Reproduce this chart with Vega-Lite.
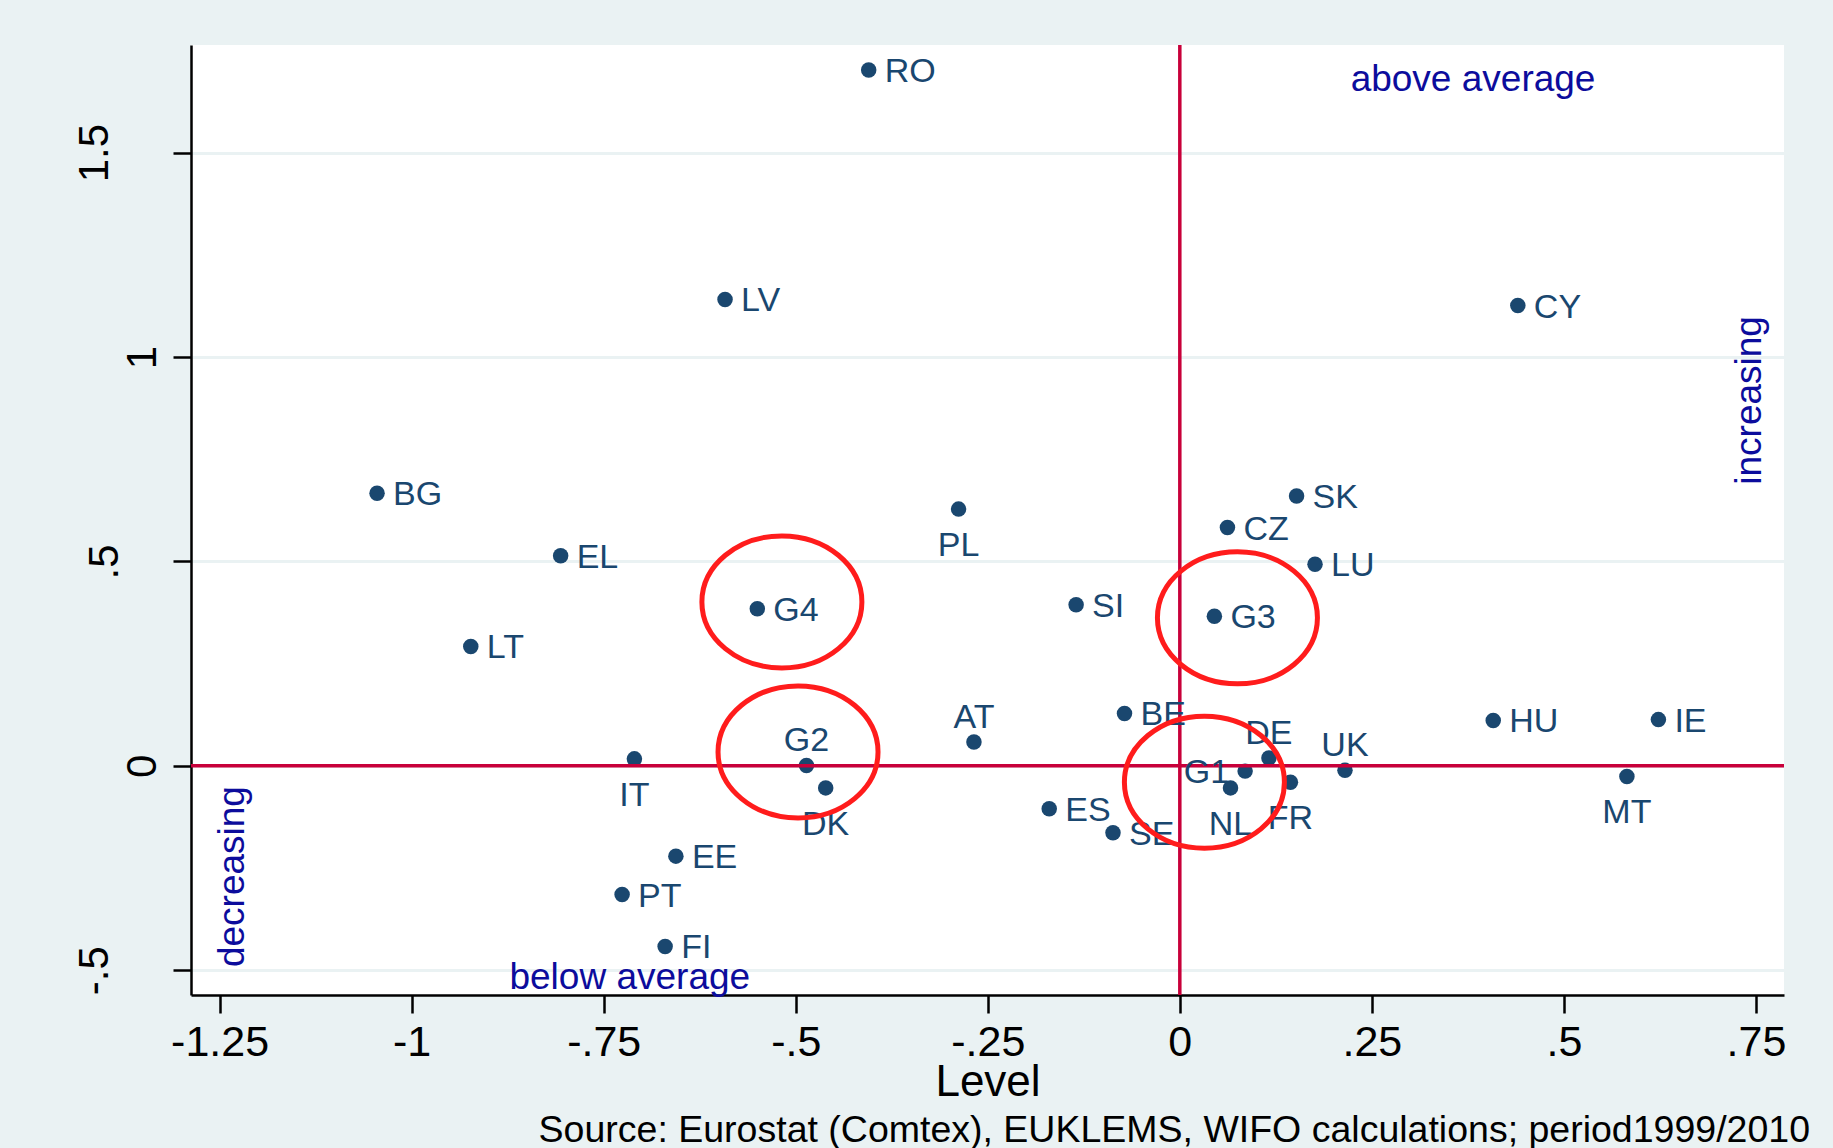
{
  "$schema": "https://vega.github.io/schema/vega-lite/v6.json",
  "width": 1593,
  "height": 950,
  "autosize": {"type": "none"},
  "padding": {"left": 191, "top": 45, "right": 49, "bottom": 153},
  "background": "#EAF2F3",
  "view": {"fill": "white", "stroke": null},
  "config": {"font": "Liberation Sans"},
  "title": {
    "text": "Source: Eurostat (Comtex), EUKLEMS, WIFO calculations; period1999/2010",
    "orient": "bottom",
    "anchor": "end",
    "frame": "group",
    "fontSize": 37.5,
    "fontWeight": "normal",
    "color": "black",
    "font": "Liberation Sans",
    "offset": 8,
    "dx": 26
  },
  "datasets": {
    "countries": [
      {"country": "RO", "level": -0.405, "change": 1.702},
      {"country": "LV", "level": -0.592, "change": 1.141},
      {"country": "BG", "level": -1.045, "change": 0.667},
      {"country": "EL", "level": -0.806, "change": 0.514},
      {"country": "LT", "level": -0.923, "change": 0.292},
      {"country": "G4", "level": -0.550, "change": 0.384},
      {"country": "PL", "level": -0.288, "change": 0.628},
      {"country": "SI", "level": -0.135, "change": 0.394},
      {"country": "AT", "level": -0.268, "change": 0.058},
      {"country": "IT", "level": -0.710, "change": 0.017},
      {"country": "G2", "level": -0.486, "change": 0.001},
      {"country": "DK", "level": -0.461, "change": -0.054},
      {"country": "EE", "level": -0.656, "change": -0.221},
      {"country": "PT", "level": -0.726, "change": -0.315},
      {"country": "FI", "level": -0.670, "change": -0.442},
      {"country": "ES", "level": -0.170, "change": -0.105},
      {"country": "SE", "level": -0.087, "change": -0.164},
      {"country": "BE", "level": -0.072, "change": 0.128},
      {"country": "G3", "level": 0.045, "change": 0.366},
      {"country": "CZ", "level": 0.062, "change": 0.583},
      {"country": "SK", "level": 0.152, "change": 0.660},
      {"country": "LU", "level": 0.176, "change": 0.493},
      {"country": "CY", "level": 0.440, "change": 1.126},
      {"country": "HU", "level": 0.408, "change": 0.111},
      {"country": "IE", "level": 0.623, "change": 0.113},
      {"country": "DE", "level": 0.116, "change": 0.019},
      {"country": "G1", "level": 0.085, "change": -0.013},
      {"country": "NL", "level": 0.066, "change": -0.054},
      {"country": "FR", "level": 0.144, "change": -0.040},
      {"country": "UK", "level": 0.215, "change": -0.011},
      {"country": "MT", "level": 0.582, "change": -0.026}
    ],
    "circles": [
      {"group": "G4", "level": -0.518, "change": 0.401},
      {"group": "G2", "level": -0.497, "change": 0.034},
      {"group": "G3", "level": 0.075, "change": 0.362},
      {"group": "G1", "level": 0.032, "change": -0.040}
    ]
  },
  "data": {"name": "countries"},
  "layer": [
    {
      "mark": {"type": "point", "shape": "circle", "filled": true, "color": "#1a476f", "size": 240, "opacity": 1},
      "encoding": {
        "x": {
          "field": "level",
          "type": "quantitative",
          "scale": {"domain": [-1.2872, 0.7865], "nice": false, "zero": false},
          "axis": {
            "title": "Level",
            "titleFontSize": 44,
            "titleFontWeight": "normal",
            "titleColor": "black",
            "titleY": 100,
            "titleBaseline": "alphabetic",
            "values": [-1.25, -1, -0.75, -0.5, -0.25, 0, 0.25, 0.5, 0.75],
            "labelExpr": "replace(toString(datum.value), '0.', '.')",
            "labelFontSize": 43,
            "labelColor": "black",
            "labelBaseline": "alphabetic",
            "labelPadding": 42,
            "labelFlush": false,
            "labelOverlap": false,
            "labelBound": false,
            "tickSize": 18,
            "tickWidth": 2.5,
            "tickColor": "black",
            "domainColor": "black",
            "domainWidth": 2.5,
            "grid": false
          }
        },
        "y": {
          "field": "change",
          "type": "quantitative",
          "scale": {"domain": [-0.5607, 1.7634], "nice": false, "zero": false},
          "axis": {
            "title": null,
            "values": [-0.5, 0, 0.5, 1, 1.5],
            "labelExpr": "replace(toString(datum.value), '0.', '.')",
            "labelFontSize": 42,
            "labelColor": "black",
            "labelAngle": 270,
            "labelAlign": "center",
            "labelBaseline": "alphabetic",
            "labelPadding": {
              "condition": [
                {"test": "datum.value == 0 || datum.value == 1", "value": 18},
                {"test": "datum.value == 0.5", "value": 56}
              ],
              "value": 66
            },
            "labelOverlap": false,
            "labelBound": false,
            "labelFlush": false,
            "tickSize": 18,
            "tickWidth": 2.5,
            "tickColor": "black",
            "domainColor": "black",
            "domainWidth": 2.5,
            "grid": true,
            "gridColor": "#EAF2F3",
            "gridWidth": 3
          }
        }
      }
    },
    {
      "data": {"values": [{}]},
      "mark": {"type": "rule", "color": "#C8003A", "strokeWidth": 3.5},
      "encoding": {"x": {"datum": 0, "type": "quantitative"}}
    },
    {
      "data": {"values": [{}]},
      "mark": {"type": "rule", "color": "#C8003A", "strokeWidth": 3.5},
      "encoding": {"y": {"datum": 0, "type": "quantitative"}}
    },
    {
      "transform": [{"filter": {"field": "country", "oneOf": ["RO", "LV", "BG", "EL", "LT", "G4", "SI", "G3", "CZ", "SK", "LU", "CY", "HU", "IE", "BE", "ES", "SE", "EE", "PT", "FI"]}}],
      "mark": {"type": "text", "align": "left", "baseline": "middle", "dx": 16, "dy": 2, "fontSize": 34, "color": "#1a476f"},
      "encoding": {
        "x": {"field": "level", "type": "quantitative"},
        "y": {"field": "change", "type": "quantitative"},
        "text": {"field": "country"}
      }
    },
    {
      "transform": [{"filter": {"field": "country", "oneOf": ["AT", "G2", "DE", "UK"]}}],
      "mark": {"type": "text", "align": "center", "baseline": "alphabetic", "dy": -14, "fontSize": 34, "color": "#1a476f"},
      "encoding": {
        "x": {"field": "level", "type": "quantitative"},
        "y": {"field": "change", "type": "quantitative"},
        "text": {"field": "country"}
      }
    },
    {
      "transform": [{"filter": {"field": "country", "oneOf": ["PL", "IT", "DK", "NL", "FR", "MT"]}}],
      "mark": {"type": "text", "align": "center", "baseline": "top", "dy": 20, "fontSize": 34, "color": "#1a476f"},
      "encoding": {
        "x": {"field": "level", "type": "quantitative"},
        "y": {"field": "change", "type": "quantitative"},
        "text": {"field": "country"}
      }
    },
    {
      "transform": [{"filter": {"field": "country", "oneOf": ["G1"]}}],
      "mark": {"type": "text", "align": "right", "baseline": "middle", "dx": -16, "dy": 2, "fontSize": 34, "color": "#1a476f"},
      "encoding": {
        "x": {"field": "level", "type": "quantitative"},
        "y": {"field": "change", "type": "quantitative"},
        "text": {"field": "country"}
      }
    },
    {
      "data": {"name": "circles"},
      "mark": {"type": "point", "shape": "M -1 0 A 1 0.825 0 1 1 1 0 A 1 0.825 0 1 1 -1 0 Z", "filled": false, "color": "#FF1C1C", "stroke": "#FF1C1C", "strokeWidth": 5, "size": 25600, "opacity": 1},
      "encoding": {
        "x": {"field": "level", "type": "quantitative"},
        "y": {"field": "change", "type": "quantitative"}
      }
    },
    {
      "data": {"values": [{}]},
      "mark": {"type": "text", "text": "above average", "align": "center", "baseline": "alphabetic", "fontSize": 37, "color": "#0C0C9C"},
      "encoding": {"x": {"datum": 0.3817, "type": "quantitative"}, "y": {"datum": 1.6516, "type": "quantitative"}}
    },
    {
      "data": {"values": [{}]},
      "mark": {"type": "text", "text": "below average", "align": "center", "baseline": "alphabetic", "fontSize": 37, "color": "#0C0C9C"},
      "encoding": {"x": {"datum": -0.716, "type": "quantitative"}, "y": {"datum": -0.547, "type": "quantitative"}}
    },
    {
      "data": {"values": [{}]},
      "mark": {"type": "text", "text": "increasing", "angle": 270, "align": "center", "baseline": "alphabetic", "fontSize": 37, "color": "#0C0C9C"},
      "encoding": {"x": {"datum": 0.7566, "type": "quantitative"}, "y": {"datum": 0.894, "type": "quantitative"}}
    },
    {
      "data": {"values": [{}]},
      "mark": {"type": "text", "text": "decreasing", "angle": 270, "align": "center", "baseline": "alphabetic", "fontSize": 37, "color": "#0C0C9C"},
      "encoding": {"x": {"datum": -1.218, "type": "quantitative"}, "y": {"datum": -0.271, "type": "quantitative"}}
    }
  ]
}
